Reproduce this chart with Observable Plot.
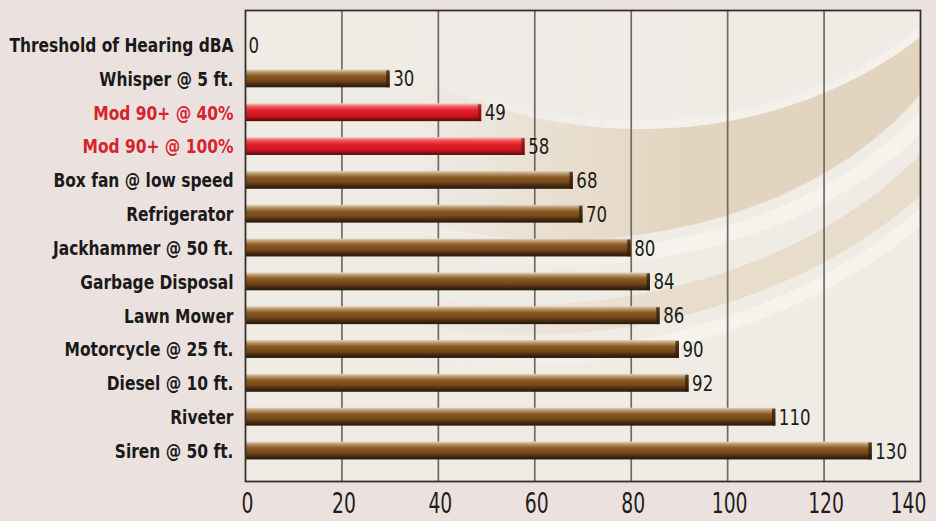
<!DOCTYPE html>
<html>
<head>
<meta charset="utf-8">
<script src="https://cdn.jsdelivr.net/npm/d3@7"></script>
<script src="https://cdn.jsdelivr.net/npm/@observablehq/plot@0.6"></script>
<style>
  html, body { margin: 0; padding: 0; background: #ebe2df; }
  #chart { width: 936px; height: 521px; }
  svg { display: block; }
</style>
</head>
<body>
<div id="chart"></div>
<script>
const categories = [
  "Threshold of Hearing dBA", "Whisper @ 5 ft.", "Mod 90+ @ 40%", "Mod 90+ @ 100%",
  "Box fan @ low speed", "Refrigerator", "Jackhammer @ 50 ft.", "Garbage Disposal",
  "Lawn Mower", "Motorcycle @ 25 ft.", "Diesel @ 10 ft.", "Riveter", "Siren @ 50 ft."
];
const values = [0, 30, 49, 58, 68, 70, 80, 84, 86, 90, 92, 110, 130];
const highlighted = ["Mod 90+ @ 40%", "Mod 90+ @ 100%"];
const xTicks = [0, 20, 40, 60, 80, 100, 120];
const lastTick = [140];
const gridTicks = [20, 40, 60, 80, 100, 120];

const data = categories.map((name, i) => ({ name, value: values[i], red: highlighted.includes(name) }));
const brown = data.filter(d => !d.red && d.value > 0);
const red = data.filter(d => d.red);

const font = "'DejaVu Sans Condensed', 'DejaVu Sans', sans-serif";

const chart = Plot.plot({
  width: 936,
  height: 521,
  marginLeft: 245,
  marginRight: 16,
  marginTop: 10,
  marginBottom: 40,
  style: { background: "transparent", fontFamily: font },
  x: { domain: [0, 140], axis: null },
  y: { domain: categories, range: [28.1, 467.9], paddingInner: 0.5, paddingOuter: 0.25, round: false, axis: null },
  marks: [
    Plot.frame({ fill: "#efebe5", stroke: "none" }),
    Plot.gridX(gridTicks, { stroke: "#6f6a64", strokeOpacity: 1, strokeWidth: 1.7 }),
    Plot.barX(brown, { x: "value", y: "name", fill: "url(#gBrown)", insetTop: -1 }),
    Plot.barX(red, { x: "value", y: "name", fill: "url(#gRed)", insetTop: -1 }),
    // darker end caps
    Plot.barX(brown, { x1: d => d.value - 0.7, x2: "value", y: "name", fill: "#2e1d0a", fillOpacity: 0.75 }),
    Plot.barX(red, { x1: d => d.value - 0.7, x2: "value", y: "name", fill: "#6e0c10", fillOpacity: 0.6 }),
    // 0: category labels
    Plot.text(data, {
      x: 0, y: "name", text: "name", textAnchor: "end", dx: -12,
      fill: d => d.red ? "#d8232e" : "#1a1a1a",
      fontSize: 20, fontWeight: "bold", fontFamily: font
    }),
    // 1: value labels
    Plot.text(data, {
      x: "value", y: "name", text: d => String(d.value), textAnchor: "start", dx: 3,
      fill: "#1e1c1a", fontSize: 22, fontFamily: font
    }),
    // 2, 3: x tick labels
    Plot.text(xTicks, {
      x: d => d, frameAnchor: "bottom", dy: 31, dx: 2, text: d => String(d),
      fill: "#1e1c1a", fontSize: 29, fontFamily: font
    }),
    Plot.text(lastTick, {
      x: d => d, frameAnchor: "bottom", dy: 31, dx: -12, text: d => String(d),
      fill: "#1e1c1a", fontSize: 29, fontFamily: font
    }),
    Plot.frame({ stroke: "#35302b", strokeWidth: 1.8 })
  ]
});

// Horizontal condensing of text (to mimic a condensed typeface)
const textGroups = chart.querySelectorAll('g[aria-label="text"]');
function condense(g, s) {
  if (!g) return;
  g.querySelectorAll("text").forEach(t => {
    const tr = t.getAttribute("transform");
    if (tr) {
      t.setAttribute("transform", tr + ` scale(${s},1)`);
    } else {
      const x = +(t.getAttribute("x") || 0);
      t.setAttribute("x", 0);
      t.setAttribute("transform", `translate(${x},0) scale(${s},1)`);
    }
  });
}
condense(textGroups[0], 0.86);
condense(textGroups[1], 0.84);
condense(textGroups[2], 0.72);
condense(textGroups[3], 0.72);

// Colour gradients for the bars + decorative background
const svg = d3.select(chart);
svg.insert("defs", ":first-child").html(`
  <linearGradient id="gBrown" x1="0" y1="0" x2="0" y2="1">
    <stop offset="0" stop-color="#e2d6c4"/>
    <stop offset="0.16" stop-color="#b89466"/>
    <stop offset="0.36" stop-color="#8a5a24"/>
    <stop offset="0.64" stop-color="#74461a"/>
    <stop offset="0.8" stop-color="#4a2e10"/>
    <stop offset="1" stop-color="#24160a"/>
  </linearGradient>
  <linearGradient id="gRed" x1="0" y1="0" x2="0" y2="1">
    <stop offset="0" stop-color="#f3d6cf"/>
    <stop offset="0.18" stop-color="#ee5c5c"/>
    <stop offset="0.4" stop-color="#e4202c"/>
    <stop offset="0.74" stop-color="#c8141e"/>
    <stop offset="1" stop-color="#500a0c"/>
  </linearGradient>
  <linearGradient id="fade" gradientUnits="userSpaceOnUse" x1="420" y1="0" x2="680" y2="0">
    <stop offset="0" stop-color="#000"/>
    <stop offset="1" stop-color="#fff"/>
  </linearGradient>
  <mask id="fadeMask" maskUnits="userSpaceOnUse" x="0" y="0" width="936" height="521">
    <rect x="0" y="0" width="936" height="521" fill="url(#fade)"/>
  </mask>
  <clipPath id="plotClip"><rect x="245" y="10" width="675" height="471"/></clipPath>
`);

const bgFrame = svg.select("[aria-label=frame]");
const clipG = svg.insert("g", () => bgFrame.node().nextSibling).attr("clip-path", "url(#plotClip)");
const deco = clipG.append("g").attr("mask", "url(#fadeMask)");
deco.append("ellipse").attr("cx", 500).attr("cy", -60).attr("rx", 560).attr("ry", 420)
  .attr("fill", "none").attr("stroke", "#f6f2ec").attr("stroke-width", 14);
deco.append("ellipse").attr("cx", 520).attr("cy", -60).attr("rx", 510).attr("ry", 380)
  .attr("fill", "none").attr("stroke", "#e8dccb").attr("stroke-width", 30);
deco.append("ellipse").attr("cx", 560).attr("cy", -60).attr("rx", 440).attr("ry", 318)
  .attr("fill", "none").attr("stroke", "#f6f2ec").attr("stroke-width", 16);
deco.append("ellipse").attr("cx", 560).attr("cy", -60).attr("rx", 420).attr("ry", 300)
  .attr("fill", "#e3d4bf");
deco.append("ellipse").attr("cx", 640).attr("cy", -200).attr("rx", 400).attr("ry", 325)
  .attr("fill", "#efebe5");
deco.append("ellipse").attr("cx", 640).attr("cy", -200).attr("rx", 400).attr("ry", 325)
  .attr("fill", "none").attr("stroke", "#f4f1ec").attr("stroke-width", 8);

document.getElementById("chart").appendChild(chart);
</script>
</body>
</html>
